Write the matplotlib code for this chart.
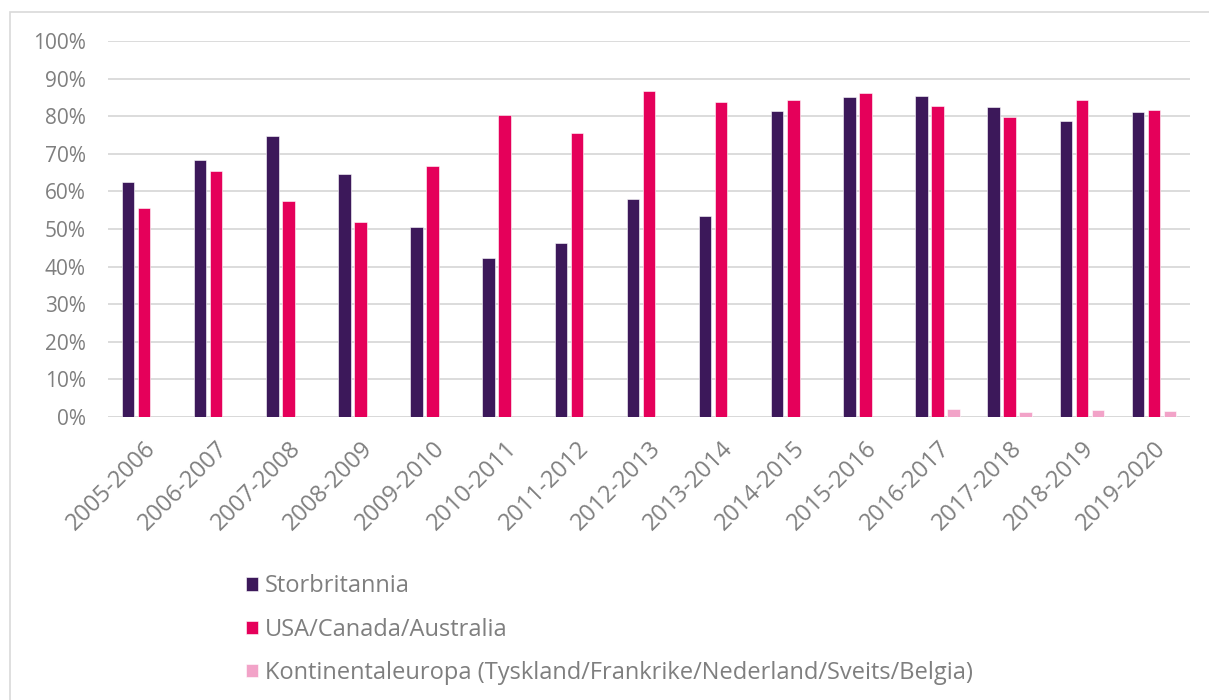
import numpy as np
import matplotlib.pyplot as plt
from matplotlib.patches import Rectangle

plt.rcParams['font.family'] = ['Open Sans', 'DejaVu Sans']

# school years
years = ["2005-2006", "2006-2007", "2007-2008", "2008-2009", "2009-2010",
         "2010-2011", "2011-2012", "2012-2013", "2013-2014", "2014-2015",
         "2015-2016", "2016-2017", "2017-2018", "2018-2019", "2019-2020"]

# shares (fraction of 1)
storbritannia = [0.624, 0.684, 0.748, 0.646, 0.505, 0.422, 0.463, 0.581, 0.535,
                 0.813, 0.851, 0.854, 0.824, 0.788, 0.811]
usa_can_aus = [0.555, 0.654, 0.574, 0.518, 0.668, 0.802, 0.755, 0.867, 0.837,
               0.843, 0.862, 0.827, 0.798, 0.842, 0.816]
kontinental = [0, 0, 0, 0, 0, 0, 0, 0, 0, 0, 0, 0.021, 0.012, 0.018, 0.016]

labels = ["Storbritannia", "USA/Canada/Australia",
          "Kontinentaleuropa (Tyskland/Frankrike/Nederland/Sveits/Belgia)"]
colors = ["#3c185a", "#e5005a", "#f2a3c8"]

fig = plt.figure(figsize=(12.09, 7.0), dpi=100)
ax = fig.add_axes([108 / 1209, 1 - 417 / 700, (1190 - 108) / 1209, (417 - 41) / 700])

# frame of the surrounding box
fig.patches.append(Rectangle((10 / 1209, -0.1), 1.2, 1.1 - 12 / 700, transform=fig.transFigure,
                             fill=False, edgecolor="#d9d9d9", lw=1.2))

x = np.arange(len(years))
w = 0.173
off = 0.222
series = [storbritannia, usa_can_aus, kontinental]
for i, (vals, lab, c) in enumerate(zip(series, labels, colors)):
    ax.bar(x + (i - 1) * off, vals, width=w, color=c, label=lab,
           edgecolor="white", linewidth=0.4, zorder=3)

ax.set_xlim(-0.5, len(years) - 0.5)
ax.set_ylim(0, 1.0)
ax.set_yticks(np.arange(0, 1.01, 0.1))
ax.set_yticklabels([f"{int(round(v * 100))}%" for v in np.arange(0, 1.01, 0.1)])
ax.yaxis.grid(True, color="#d9d9d9", lw=1.3, zorder=0)
ax.set_axisbelow(True)
for s in ax.spines.values():
    s.set_visible(False)
ax.axhline(0, color="#d9d9d9", lw=1.3, zorder=1)

ax.set_xticks(x)
ax.set_xticklabels(years, rotation=45, ha="right", rotation_mode="anchor")
ax.tick_params(axis="both", length=0, colors="#7f7f7f")
ax.tick_params(axis="y", pad=16, labelsize=15)
ax.tick_params(axis="x", pad=14, labelsize=17)

handles, labs = ax.get_legend_handles_labels()
leg = fig.legend(handles, labs, loc="upper left", bbox_to_anchor=(225 / 1209, 1 - 553 / 700),
                 frameon=False, fontsize=17, labelspacing=0.82, handlelength=0.5,
                 handleheight=0.5, handletextpad=0.3, labelcolor="#7f7f7f")

fig.savefig("out.png", dpi=100)
